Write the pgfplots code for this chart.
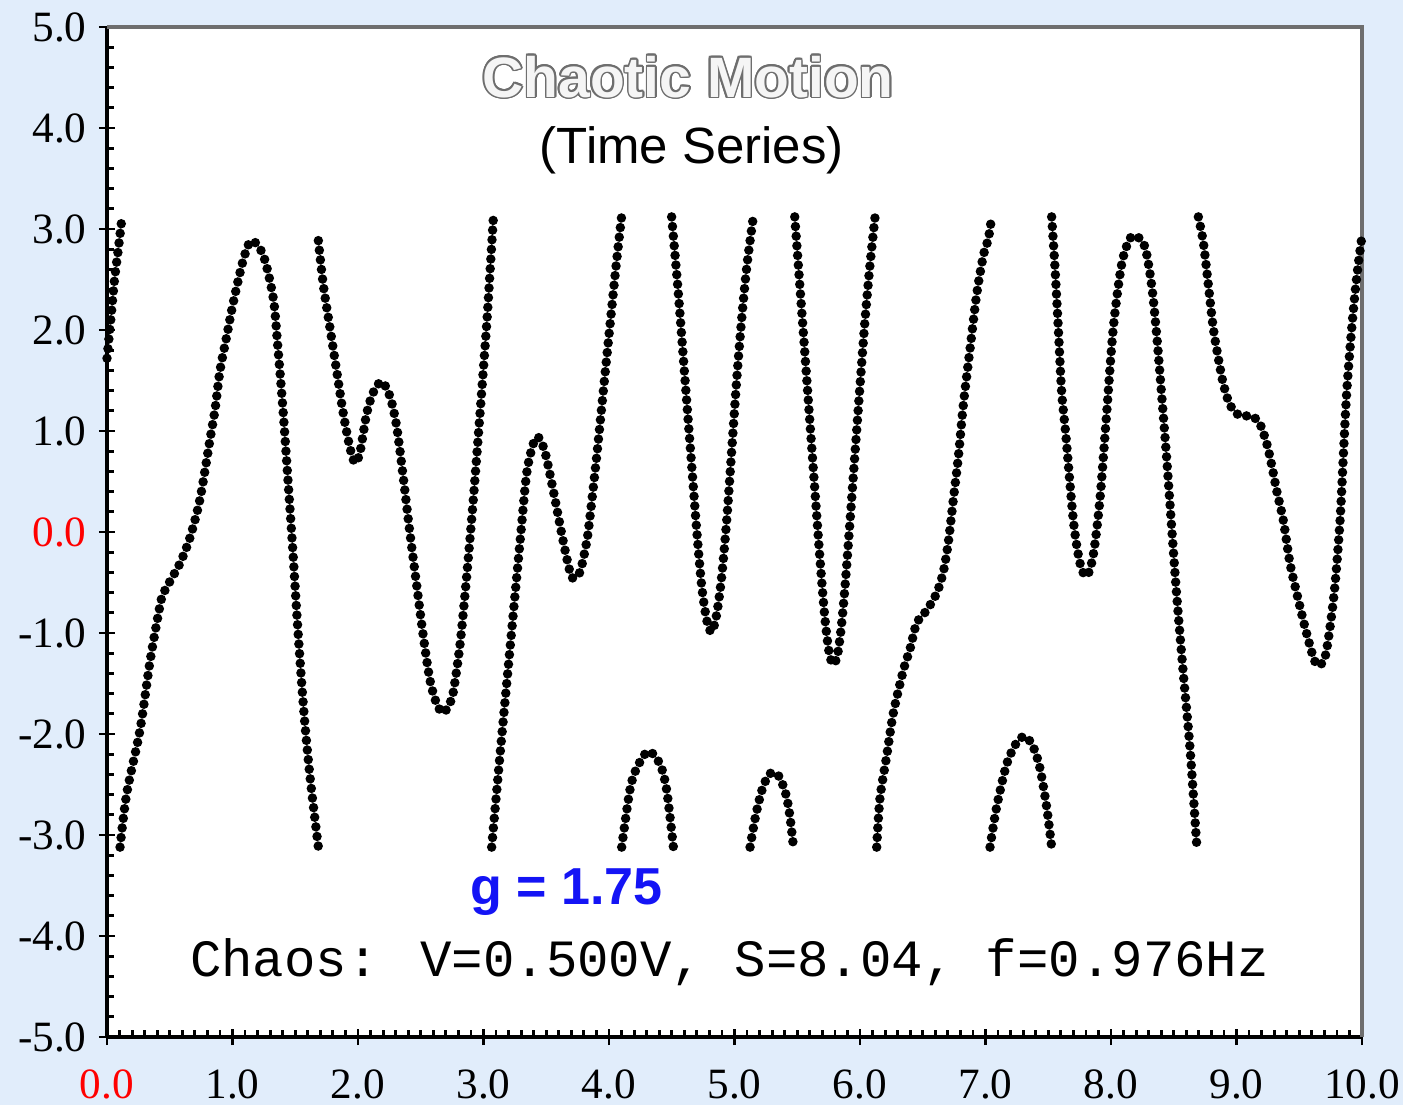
\documentclass[border=0pt]{standalone}
\usepackage{fontspec}
\setmainfont{Liberation Serif}
\newfontfamily\arialfont{Liberation Sans}
\newfontfamily\courfont{Liberation Mono}
\usepackage{pgfplots}
\pgfplotsset{compat=1.18}
\usepackage[copies]{contour}
\definecolor{bgblue}{RGB}{225,237,251}
\definecolor{framegray}{RGB}{110,110,110}
\definecolor{gblue}{RGB}{20,20,245}
\pgfplotsset{dotcurve/.style={black, line width=2.7pt, line cap=round, dash pattern=on 0pt off 2.75pt, smooth, tension=0.5, no markers}}
\begin{document}
\begin{tikzpicture}
\fill[bgblue] (-1.07,-0.68) rectangle (12.96,10.37);
\begin{axis}[
  at={(0,0)}, anchor=south west, scale only axis,
  width=12.55cm, height=10.10cm,
  xmin=0, xmax=10, ymin=-5, ymax=5,
  axis lines=left, axis line style={-, black, line width=1pt},
  axis background/.style={fill=white},
  xtick={0,1,...,10}, ytick={-5,-4,...,5},
  xticklabels={\textcolor{red}{0.0},1.0,2.0,3.0,4.0,5.0,6.0,7.0,8.0,9.0,10.0},
  yticklabels={-5.0,-4.0,-3.0,-2.0,-1.0,\textcolor{red}{0.0},1.0,2.0,3.0,4.0,5.0},
  minor x tick num=9, minor y tick num=4,
  tick align=inside,
  major tick length=0.16cm, minor tick length=0.07cm,
  every major x tick/.append style={yshift=-0.08cm},
  every major y tick/.append style={xshift=-0.08cm},
  tick style={black, line width=0.8pt},
  tick label style={font=\fontsize{12.3}{14}\selectfont},
  xticklabel style={yshift=-0.2cm},
  yticklabel style={xshift=-0.08cm},
  clip=false,
]
\draw[framegray, line width=1.4pt] (rel axis cs:0,1) -- (rel axis cs:1,1) -- (rel axis cs:1,0);

% segment A
\addplot[dotcurve] coordinates {(0,1.72) (0.03,2.1) (0.06,2.5) (0.09,2.8) (0.12,3.12)};
% segment B
\addplot[dotcurve] coordinates {(0.104,-3.12) (0.157,-2.59) (0.263,-1.96) (0.343,-1.28) (0.422,-0.73) (0.449,-0.61) (0.51,-0.47) (0.582,-0.309) (0.661,-0.056) (0.741,0.326) (0.821,0.918) (0.861,1.214) (0.900,1.595) (0.953,1.933) (1.006,2.271) (1.086,2.695) (1.152,2.885) (1.246,2.737) (1.325,2.314) (1.36,1.85) (1.40,1.25) (1.44,0.55) (1.48,-0.17) (1.52,-0.95) (1.57,-1.8) (1.62,-2.45) (1.684,-3.12)};
% segment C
\addplot[dotcurve] coordinates {(1.684,2.885) (1.724,2.441) (1.777,2.018) (1.830,1.595) (1.883,1.171) (1.936,0.833) (1.976,0.685) (2.016,0.791) (2.069,1.171) (2.122,1.383) (2.189,1.489) (2.255,1.341) (2.308,1.045) (2.361,0.537) (2.414,-0.013) (2.467,-0.521) (2.520,-1.029) (2.574,-1.47) (2.630,-1.71) (2.680,-1.79) (2.730,-1.70) (2.760,-1.58) (2.813,-1.113) (2.866,-0.436) (2.919,0.326) (2.972,1.171) (3.025,2.05) (3.052,2.58) (3.078,3.10)};
% segment D
\addplot[dotcurve] coordinates {(3.065,-3.12) (3.131,-2.214) (3.211,-1.155) (3.291,-0.098) (3.344,0.58) (3.397,0.875) (3.437,0.939) (3.490,0.791) (3.556,0.410) (3.636,-0.098) (3.690,-0.40) (3.716,-0.46) (3.769,-0.395) (3.822,-0.098) (3.849,0.156) (3.902,0.75) (3.955,1.40) (4.008,2.05) (4.055,2.62) (4.10,3.12)};
% segment E
\addplot[dotcurve] coordinates {(4.101,-3.12) (4.167,-2.552) (4.22,-2.34) (4.313,-2.171) (4.406,-2.298) (4.459,-2.552) (4.513,-3.12)};
% segment F
\addplot[dotcurve] coordinates {(4.499,3.12) (4.55,2.40) (4.60,1.60) (4.65,0.80) (4.70,0.0) (4.74,-0.55) (4.78,-0.88) (4.818,-0.99) (4.857,-0.82) (4.897,-0.45) (4.94,0.15) (4.98,0.85) (5.02,1.55) (5.06,2.15) (5.10,2.65) (5.15,3.12)};
% segment G
\addplot[dotcurve] coordinates {(5.124,-3.12) (5.17,-2.80) (5.22,-2.55) (5.27,-2.41) (5.31,-2.38) (5.36,-2.43) (5.41,-2.60) (5.44,-2.80) (5.47,-3.12)};
% segment H
\addplot[dotcurve] coordinates {(5.48,3.12) (5.52,2.45) (5.56,1.78) (5.60,1.10) (5.64,0.42) (5.68,-0.25) (5.72,-0.85) (5.755,-1.2) (5.787,-1.31) (5.82,-1.22) (5.85,-0.95) (5.88,-0.55) (5.92,0.10) (5.96,0.78) (6.00,1.45) (6.04,2.10) (6.08,2.65) (6.12,3.12)};
% segment I
\addplot[dotcurve] coordinates {(6.133,-3.12) (6.159,-2.637) (6.213,-2.214) (6.266,-1.79) (6.346,-1.367) (6.399,-1.156) (6.452,-0.902) (6.531,-0.776) (6.611,-0.606) (6.664,-0.394) (6.704,-0.098) (6.744,0.326) (6.784,0.748) (6.823,1.256) (6.876,1.806) (6.930,2.356) (6.983,2.737) (7.023,2.906) (7.049,3.12)};
% segment J
\addplot[dotcurve] coordinates {(7.036,-3.12) (7.089,-2.721) (7.169,-2.298) (7.248,-2.086) (7.315,-2.023) (7.381,-2.129) (7.434,-2.34) (7.487,-2.721) (7.527,-3.12)};
% segment K
\addplot[dotcurve] coordinates {(7.527,3.12) (7.554,2.61) (7.580,2.018) (7.607,1.383) (7.640,0.96) (7.700,0.114) (7.753,-0.309) (7.806,-0.437) (7.859,-0.225) (7.912,0.326) (7.965,1.171) (8.018,2.018) (8.085,2.652) (8.151,2.906) (8.205,2.927) (8.271,2.821) (8.324,2.44) (8.364,1.95) (8.404,1.35) (8.444,0.72) (8.483,0.05) (8.523,-0.62) (8.576,-1.40) (8.630,-2.15) (8.683,-3.10)};
% segment L
\addplot[dotcurve] coordinates {(8.696,3.12) (8.736,2.864) (8.776,2.441) (8.815,2.018) (8.855,1.722) (8.895,1.467) (8.949,1.256) (9.028,1.150) (9.121,1.150) (9.188,1.065) (9.241,0.875) (9.280,0.664) (9.320,0.410) (9.373,0.114) (9.426,-0.309) (9.480,-0.606) (9.546,-0.944) (9.612,-1.240) (9.652,-1.325) (9.705,-1.240) (9.745,-0.944) (9.785,-0.521) (9.825,0.114) (9.851,0.748) (9.878,1.383) (9.918,2.018) (9.958,2.526) (9.997,2.906)};

\contourlength{0.45pt}
\node at (axis cs:4.63,4.50) {\arialfont\bfseries\fontsize{16.2}{18}\selectfont\contour{framegray}{\textcolor{white!96!black}{Chaotic Motion}}};
\node at (axis cs:4.66,3.78) {\arialfont\fontsize{14.5}{16}\selectfont (Time Series)};
\node[text=gblue] at (axis cs:3.66,-3.57) {\arialfont\bfseries\fontsize{14.8}{16}\selectfont g = 1.75};
\node at (axis cs:4.96,-4.26) {\courfont\fontsize{14.9}{16}\selectfont Chaos: V=0.500V, S=8.04, f=0.976Hz};
\end{axis}
\pgfresetboundingbox
\path[use as bounding box] (-1.07,-0.68) rectangle (12.96,10.37);
\end{tikzpicture}
\end{document}
